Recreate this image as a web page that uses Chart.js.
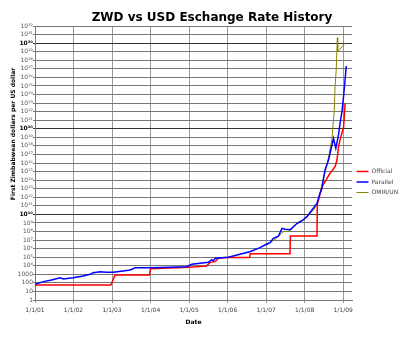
<!DOCTYPE html>
<html>
<head>
<meta charset="utf-8">
<script src="https://cdn.jsdelivr.net/npm/chart.js@4.4.0/dist/chart.umd.min.js"></script>
<style>
  html, body { margin: 0; padding: 0; background: #fff; }
  #contenedor { width: 400px; height: 338px; }
</style>
</head>
<body>
<div id="contenedor"><canvas id="grafico" width="400" height="338"></canvas></div>
<script>
const TITULO = 'ZWD vs USD Eschange Rate History';
const TITULO_Y = 'First Zimbabwean dollars per US dollar';
const FUENTE = '"DejaVu Sans", Verdana, sans-serif';

// Official (tipo de cambio oficial)
const anosOficial = [2001.00, 2002.97, 2003.08, 2003.97, 2004.00, 2004.50, 2005.00, 2005.45, 2005.55, 2005.68,
  2005.76, 2005.98, 2006.57, 2006.59, 2007.62, 2007.63, 2008.32, 2008.33, 2008.45, 2008.53,
  2008.66, 2008.79, 2008.84, 2008.88, 2008.92, 2008.99, 2009.01, 2009.03, 2009.05];
const tasasOficial = [55, 55, 824, 824, 4500, 5500, 6500, 9000, 25000, 30000,
  74000, 90000, 90000, 250000, 250000, 3e7, 3e7, 1.6e11, 1.7e13, 6.6e13,
  6.3e14, 3.7e15, 2.2e16, 7.9e17, 5e18, 7e19, 1.5e20, 2.5e21, 9.3e22];

// Parallel (mercado paralelo)
const anosParalelo = [2001.00, 2001.22, 2001.43, 2001.65, 2001.74, 2001.99, 2002.25, 2002.43, 2002.51, 2002.69,
  2002.86, 2003.03, 2003.29, 2003.47, 2003.60, 2003.99, 2004.50, 2004.94, 2005.07, 2005.29,
  2005.50, 2005.59, 2005.63, 2005.68, 2006.02, 2006.32, 2006.58, 2006.84, 2007.02, 2007.10,
  2007.19, 2007.32, 2007.41, 2007.49, 2007.62, 2007.80, 2007.93, 2008.06, 2008.19, 2008.32,
  2008.40, 2008.45, 2008.49, 2008.53, 2008.62, 2008.68, 2008.75, 2008.81, 2008.88, 2008.92,
  2008.97, 2009.01, 2009.05, 2009.08];
const tasasParalelo = [68, 140, 220, 400, 280, 400, 630, 1000, 1550, 2000,
  1720, 1720, 2450, 3200, 5900, 5900, 6500, 7700, 14800, 19300,
  25000, 51000, 36000, 74000, 97000, 218000, 437000, 1.3e6, 3.5e6, 4.9e6,
  1.6e7, 2.8e7, 2.3e8, 1.8e8, 1.6e8, 8.5e8, 1.8e9, 5.4e9, 3.2e10, 1.9e11,
  2.9e12, 1.1e13, 1.6e14, 1.5e15, 2.2e16, 3.3e17, 7.6e18, 5.2e17, 1.9e19, 4.4e20,
  9.8e21, 5.5e23, 4.9e25, 2.1e27];

// OMIR/UN
const anosOmir = [2007.02, 2007.23, 2007.29, 2007.45, 2007.62, 2007.84, 2007.97, 2008.10, 2008.19, 2008.32,
  2008.42, 2008.49, 2008.58, 2008.64, 2008.71, 2008.77, 2008.79, 2008.82, 2008.85, 2008.86,
  2008.92, 2009.01, 2009.05];
const tasasOmir = [2.6e6, 1.2e7, 2.1e7, 9.5e7, 1.1e8, 1.4e9, 1.9e9, 8.5e9, 2.0e10, 1.2e11,
  7.1e12, 1.8e14, 5.9e15, 1.3e17, 7.6e18, 1.5e22, 8.1e24, 7.2e26, 4.3e30, 1e29,
  1.9e29, 6e29, 9.5e29];

// Marcas de los ejes
const anosTicks = [2001, 2002, 2003, 2004, 2005, 2006, 2007, 2008, 2009];
const etiquetasX = ['1/1/01', '1/1/02', '1/1/03', '1/1/04', '1/1/05', '1/1/06', '1/1/07', '1/1/08', '1/1/09'];
const exponentesY = [0, 1, 2, 3, 4, 5, 6, 7, 8, 9, 10, 11, 12, 13, 14, 15, 16,
  17, 18, 19, 20, 21, 22, 23, 24, 25, 26, 27, 28, 29, 30, 31, 32];

const SUPER = { '0': '⁰', '1': '¹', '2': '²', '3': '³', '4': '⁴', '5': '⁵', '6': '⁶', '7': '⁷', '8': '⁸', '9': '⁹' };
function etiquetaPotencia(e) {
  if (e < 4) return String(Math.pow(10, e));
  return '10' + String(e).split('').map(d => SUPER[d]).join('');
}
const etiquetasY = exponentesY.map(etiquetaPotencia);
const esMayor = e => e > 0 && e % 10 === 0;

function puntos(xs, ys) {
  return xs.map((x, i) => ({ x: x, y: ys[i] }));
}

// Titulo principal y titulo del eje Y (desplazados como en la imagen original)
const textosPlugin = {
  id: 'textosPropios',
  afterDraw(chart) {
    const ctx = chart.ctx;
    ctx.save();
    ctx.fillStyle = '#000';
    ctx.textAlign = 'center';
    ctx.textBaseline = 'middle';
    ctx.font = 'bold 12px ' + FUENTE;
    ctx.fillText(TITULO, 212, 18);
    ctx.translate(13, 134);
    ctx.rotate(-Math.PI / 2);
    ctx.font = 'bold 6px ' + FUENTE;
    ctx.fillText(TITULO_Y, 0, 0);
    ctx.restore();
  }
};

const ctx = document.getElementById('grafico').getContext('2d');
new Chart(ctx, {
  type: 'line',
  data: {
    datasets: [
      { label: 'Official', data: puntos(anosOficial, tasasOficial), borderColor: '#ff0000', backgroundColor: '#ff0000', borderWidth: 1.5, order: 1 },
      { label: 'Parallel', data: puntos(anosParalelo, tasasParalelo), borderColor: '#0000ff', backgroundColor: '#0000ff', borderWidth: 1.5, order: 0 },
      { label: 'OMIR/UN', data: puntos(anosOmir, tasasOmir), borderColor: '#888800', backgroundColor: '#888800', borderWidth: 1, order: 2 }
    ]
  },
  options: {
    responsive: false,
    animation: false,
    parsing: false,
    elements: { point: { radius: 0 }, line: { tension: 0 } },
    layout: { padding: { top: 26, left: 0, right: 0, bottom: 0 } },
    plugins: {
      title: { display: false },
      tooltip: { enabled: false },
      legend: {
        position: 'right',
        maxWidth: 48,
        labels: {
          sort: (a, b) => a.datasetIndex - b.datasetIndex,
          usePointStyle: true,
          pointStyle: 'line',
          pointStyleWidth: 12,
          padding: 4.5,
          color: '#444',
          font: { family: FUENTE, size: 6 }
        }
      }
    },
    scales: {
      x: {
        type: 'linear',
        min: 2001,
        max: 2009.23,
        afterBuildTicks: scale => { scale.ticks = anosTicks.map(v => ({ value: v })); },
        afterFit: scale => { scale.height = 38; },
        ticks: {
          autoSkip: false,
          maxRotation: 0,
          padding: 4,
          color: '#444',
          font: { family: FUENTE, size: 6 },
          callback: (v, i) => etiquetasX[i]
        },
        grid: { color: '#999', tickLength: 3 },
        border: { color: '#777' },
        title: { display: true, text: 'Date', color: '#000', font: { family: FUENTE, size: 6, weight: 'bold' }, padding: { top: 4, bottom: 12 } }
      },
      y: {
        type: 'logarithmic',
        min: 1,
        max: 1e32,
        afterBuildTicks: scale => { scale.ticks = exponentesY.map(e => ({ value: Math.pow(10, e) })); },
        afterFit: scale => { scale.width = 35; },
        ticks: {
          autoSkip: false,
          padding: 0,
          color: c => esMayor(exponentesY[c.index]) ? '#000' : '#555',
          font: c => ({ family: FUENTE, size: 6, weight: esMayor(exponentesY[c.index]) ? 'bold' : 'normal' }),
          callback: (v, i) => etiquetasY[i]
        },
        grid: {
          color: c => (c.tick && esMayor(Math.round(Math.log10(c.tick.value)))) ? '#333' : '#777',
          tickLength: 2
        },
        border: { color: '#777' },
        title: { display: false }
      }
    }
  },
  plugins: [textosPlugin]
});
</script>
</body>
</html>
